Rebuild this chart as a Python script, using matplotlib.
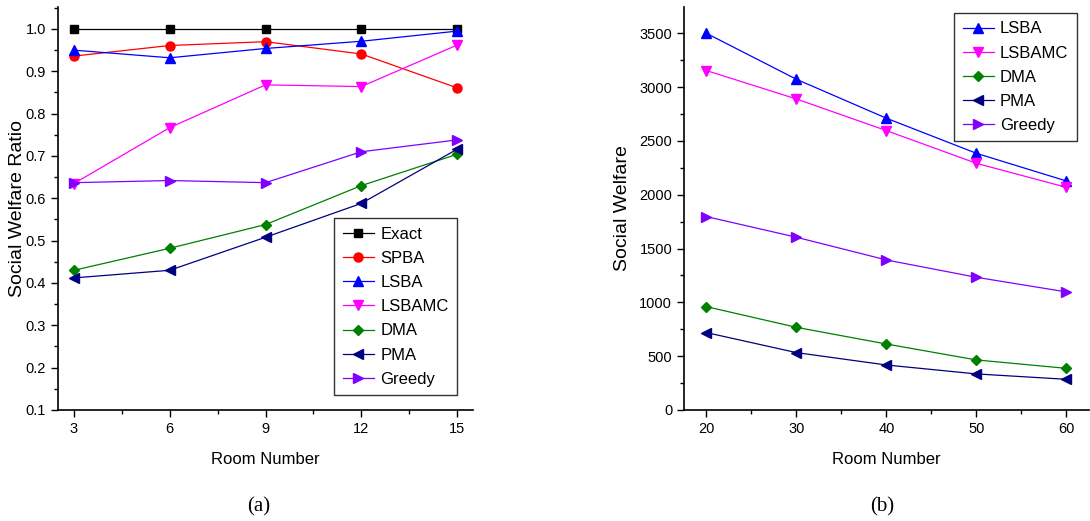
import matplotlib
matplotlib.use("Agg")
import matplotlib.pyplot as plt
from matplotlib.ticker import MultipleLocator, AutoMinorLocator

plt.rcParams["font.family"] = ["Liberation Sans", "DejaVu Sans"]

# -------------------- data --------------------
rooms_a = [3, 6, 9, 12, 15]
exact = [1.0, 1.0, 1.0, 1.0, 1.0]
spba = [0.936, 0.961, 0.970, 0.941, 0.861]
lsba_a = [0.950, 0.932, 0.954, 0.971, 0.995]
lsbamc_a = [0.635, 0.767, 0.868, 0.864, 0.962]
dma_a = [0.430, 0.482, 0.538, 0.630, 0.704]
pma_a = [0.412, 0.430, 0.508, 0.588, 0.716]
greedy_a = [0.637, 0.642, 0.637, 0.710, 0.738]

rooms_b = [20, 30, 40, 50, 60]
lsba_b = [3500, 3073, 2711, 2385, 2128]
lsbamc_b = [3154, 2890, 2596, 2292, 2069]
dma_b = [960, 768, 613, 465, 387]
pma_b = [719, 533, 418, 335, 285]
greedy_b = [1797, 1605, 1394, 1233, 1097]

STYLE = {
    "Exact": ("black", "s", 6),
    "SPBA": ("red", "o", 6.5),
    "LSBA": ("blue", "^", 7),
    "LSBAMC": ("#ff00ff", "v", 7),
    "DMA": ("#008000", "D", 5.5),
    "PMA": ("#000080", "<", 7),
    "Greedy": ("#8000ff", ">", 7),
}


def style_axes(ax):
    ax.spines["top"].set_visible(False)
    ax.spines["right"].set_visible(False)
    ax.xaxis.set_minor_locator(AutoMinorLocator(2))
    ax.yaxis.set_minor_locator(AutoMinorLocator(2))
    ax.tick_params(which="major", direction="out", length=5, width=1, labelsize=10.5)
    ax.tick_params(which="minor", direction="out", length=3, width=1)
    for s in ("left", "bottom"):
        ax.spines[s].set_linewidth(1.2)


def draw(ax, x, series):
    for name, vals in series:
        color, marker, ms = STYLE[name]
        ax.plot(x, vals, color=color, marker=marker, markersize=ms, linewidth=0.9, label=name)


def add_legend(ax, loc, anchor):
    leg = ax.legend(loc=loc, bbox_to_anchor=anchor, borderaxespad=0, fontsize=12,
                    fancybox=False, edgecolor="#333333", handlelength=1.9,
                    handletextpad=0.35, labelspacing=0.55, borderpad=0.5,
                    framealpha=1)
    leg.get_frame().set_linewidth(1)
    return leg


fig = plt.figure(figsize=(10.9, 5.21), dpi=100)
ax1 = fig.add_axes([0.0532, 0.2131, 0.3808, 0.7735])
ax2 = fig.add_axes([0.6275, 0.2131, 0.3715, 0.7735])

draw(ax1, rooms_a, [("Exact", exact), ("SPBA", spba), ("LSBA", lsba_a),
                    ("LSBAMC", lsbamc_a), ("DMA", dma_a), ("PMA", pma_a),
                    ("Greedy", greedy_a)])
ax1.set_xlim(2.5, 15.5)
ax1.set_ylim(0.1, 1.052)
ax1.set_xticks(rooms_a)
ax1.yaxis.set_major_locator(MultipleLocator(0.1))
ax1.set_xlabel("Room Number", fontsize=12, labelpad=12)
ax1.set_ylabel("Social Welfare Ratio", fontsize=14, labelpad=0)
style_axes(ax1)
add_legend(ax1, "lower right", (0.961, 0.037))

draw(ax2, rooms_b, [("LSBA", lsba_b), ("LSBAMC", lsbamc_b), ("DMA", dma_b),
                    ("PMA", pma_b), ("Greedy", greedy_b)])
ax2.set_xlim(17.5, 62.5)
ax2.set_ylim(0, 3745)
ax2.set_xticks(rooms_b)
ax2.yaxis.set_major_locator(MultipleLocator(500))
ax2.set_xlabel("Room Number", fontsize=12, labelpad=12)
ax2.set_ylabel("Social Welfare", fontsize=14, labelpad=6)
style_axes(ax2)
add_legend(ax2, "upper right", (0.970, 0.985))

fig.text(0.237, 0.018, "(a)", family="Liberation Serif", fontsize=15, ha="center")
fig.text(0.809, 0.018, "(b)", family="Liberation Serif", fontsize=15, ha="center")

fig.savefig("out.png", dpi=100)
